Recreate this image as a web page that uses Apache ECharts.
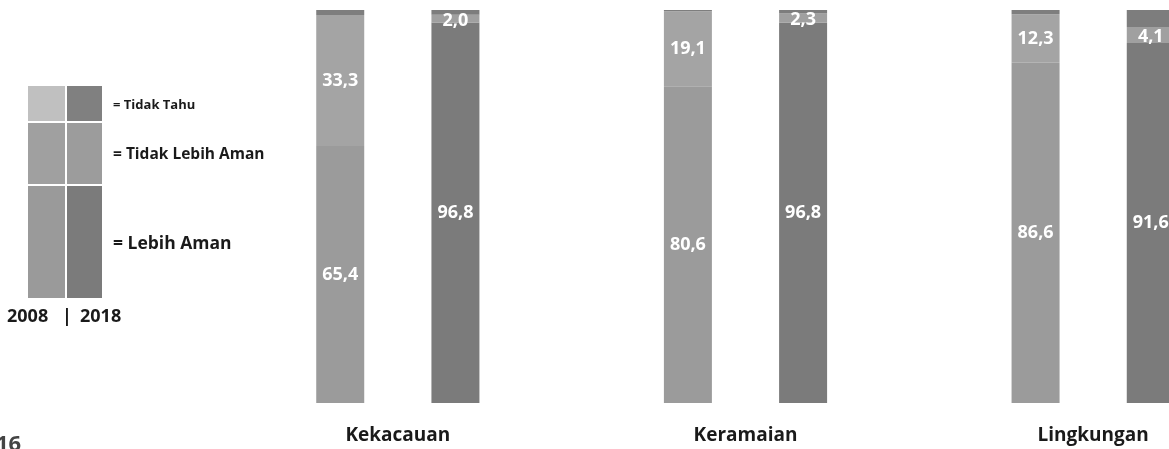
<!DOCTYPE html>
<html>
<head>
<meta charset="utf-8">
<script src="https://cdn.jsdelivr.net/npm/echarts@6/dist/echarts.min.js"></script>
<style>
html,body{margin:0;padding:0;background:#fff;}
#chart{width:1169px;height:449px;}
</style>
</head>
<body>
<div id="chart"></div>
<script>
const categories = ['Kekacauan', 'Keramaian', 'Lingkungan'];
const lebihAman2008 = [65.4, 80.6, 86.6];
const tidakLebihAman2008 = [33.3, 19.1, 12.3];
const tidakTahu2008 = [1.3, 0.3, 1.1];
const lebihAman2018 = [96.8, 96.8, 91.6];
const tidakLebihAman2018 = [2.0, 2.3, 4.1];
const tidakTahu2018 = [1.2, 0.9, 4.3];

const FONT = '"Open Sans"';
const fmt = p => p.value.toFixed(1).replace('.', ',');
const lbl = (size, dy) => ({show: true, position: 'inside', offset: [0, dy || 0], color: '#fff', fontWeight: 'bold', fontSize: size, fontFamily: FONT, formatter: fmt});
const noLbl = {show: false};

function bar(name, data, stack, color, label) {
  return {name, type: 'bar', stack, data, barWidth: 48, barGap: '140%',
    itemStyle: {color}, label, silent: true, animation: false};
}

const chart = echarts.init(document.getElementById('chart'));
chart.setOption({
  animation: false,
  grid: {left: 224, right: -98, top: 10, bottom: 46, containLabel: false, outerBoundsMode: 'none'},
  xAxis: {type: 'category', data: categories,
    axisLine: {show: false}, axisTick: {show: false},
    axisLabel: {color: '#1a1a1a', fontWeight: 'bold', fontSize: 19, fontFamily: FONT, margin: 23}},
  yAxis: {type: 'value', min: 0, max: 100, show: false, splitLine: {show: false}},
  series: [
    bar('2008 Lebih Aman', lebihAman2008, '2008', '#9b9b9b', lbl(18)),
    bar('2008 Tidak Lebih Aman', tidakLebihAman2008, '2008', '#a4a4a4', lbl(18)),
    bar('2008 Tidak Tahu', tidakTahu2008, '2008', '#7e7e7e', noLbl),
    bar('2018 Lebih Aman', lebihAman2018, '2018', '#7b7b7b', lbl(18)),
    bar('2018 Tidak Lebih Aman', tidakLebihAman2018, '2018', '#a0a0a0', lbl(18, 2)),
    bar('2018 Tidak Tahu', tidakTahu2018, '2018', '#7d7d7d', noLbl)
  ],
  graphic: [
    {type: 'rect', shape: {x: 28, y: 86, width: 37, height: 35}, style: {fill: '#c0c0c0'}},
    {type: 'rect', shape: {x: 67, y: 86, width: 35, height: 35}, style: {fill: '#808080'}},
    {type: 'rect', shape: {x: 28, y: 123, width: 37, height: 61}, style: {fill: '#a0a0a0'}},
    {type: 'rect', shape: {x: 67, y: 123, width: 35, height: 61}, style: {fill: '#9c9c9c'}},
    {type: 'rect', shape: {x: 28, y: 186, width: 37, height: 112}, style: {fill: '#9a9a9a'}},
    {type: 'rect', shape: {x: 67, y: 186, width: 35, height: 112}, style: {fill: '#7b7b7b'}},
    {type: 'text', x: 113, y: 105, style: {text: '= Tidak Tahu', fill: '#1a1a1a', font: 'bold 13px ' + FONT, verticalAlign: 'middle'}},
    {type: 'text', x: 113, y: 155, style: {text: '= Tidak Lebih Aman', fill: '#1a1a1a', font: 'bold 15.5px ' + FONT, verticalAlign: 'middle'}},
    {type: 'text', x: 113, y: 244, style: {text: '= Lebih Aman', fill: '#1a1a1a', font: 'bold 17.5px ' + FONT, verticalAlign: 'middle'}},
    {type: 'text', x: 7, y: 317, style: {text: '2008', fill: '#1a1a1a', font: 'bold 18px ' + FONT, verticalAlign: 'middle'}},
    {type: 'text', x: 62, y: 317, style: {text: '|', fill: '#1a1a1a', font: 'bold 18px ' + FONT, verticalAlign: 'middle'}},
    {type: 'text', x: 80, y: 317, style: {text: '2018', fill: '#1a1a1a', font: 'bold 18px ' + FONT, verticalAlign: 'middle'}},
    {type: 'text', x: -4, y: 434, style: {text: '16', fill: '#444', font: 'bold 22px ' + FONT, verticalAlign: 'top'}}
  ]
});
</script>
</body>
</html>
